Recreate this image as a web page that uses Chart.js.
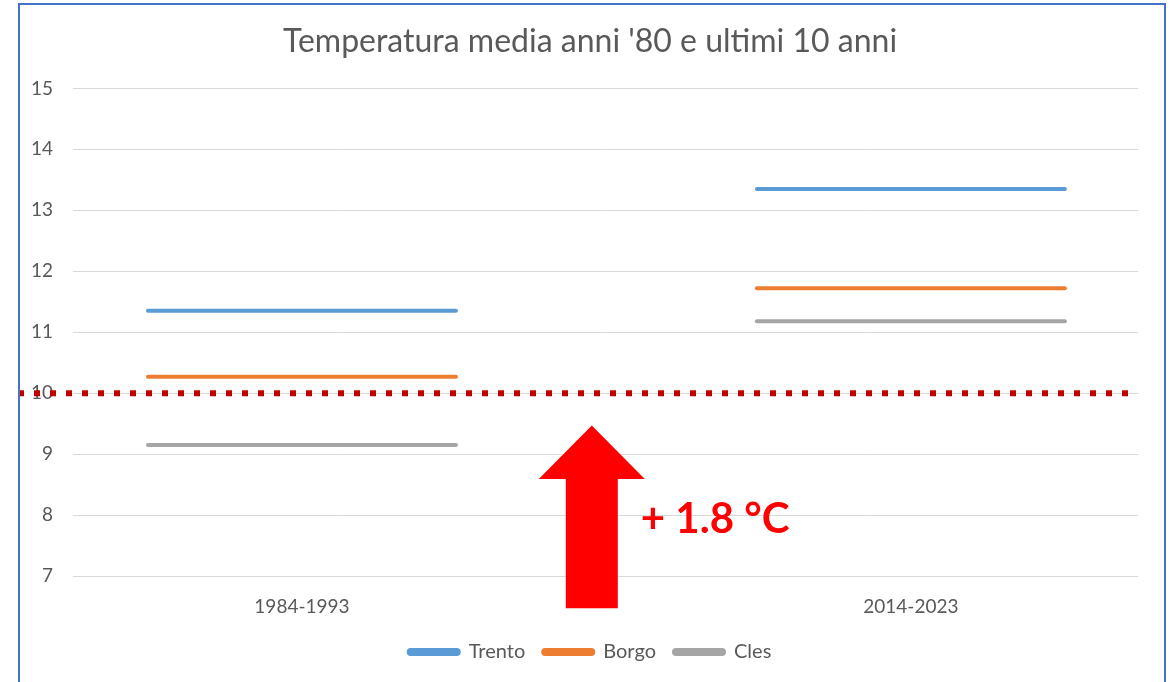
<!DOCTYPE html>
<html>
<head>
<meta charset="utf-8">
<script src="https://cdn.jsdelivr.net/npm/chart.js@4/dist/chart.umd.min.js"></script>
<style>
  html, body { margin: 0; padding: 0; background: #fff; overflow: hidden; }
  #wrap { position: relative; width: 1173px; height: 682px; }
  #frame {
    position: absolute; left: 18px; top: 3px; width: 1144px; height: 700px;
    border: 2px solid #4472C4; border-bottom: none; pointer-events: none;
  }
</style>
</head>
<body>
<div id="wrap">
  <canvas id="mycanvas" width="1173" height="682"></canvas>
  <div id="frame"></div>
</div>
<script>
// periods on the x axis
var periods = ['1984-1993', '2014-2023'];

// mean temperature per station (°C)
var trento = [11.35, 13.35];
var borgo = [10.27, 11.72];
var cles = [9.15, 11.18];

var yTicks = [7, 8, 9, 10, 11, 12, 13, 14, 15];

// annotation: reference line and arrow
var refValue = 10;
var deltaLabel = '+ 1.8 °C';

function toPoints(values) {
  return values.map(function(v, i) { return { x: i, y: v }; });
}

function series(label, values, color) {
  return {
    label: label,
    data: toPoints(values),
    borderColor: color,
    backgroundColor: color,
    borderWidth: 1,
    showLine: false,
    pointStyle: 'line',
    pointRadius: 154,
    pointHoverRadius: 154,
    pointBorderWidth: 4,
    pointHoverBorderWidth: 4
  };
}

var roundCaps = {
  id: 'roundCaps',
  beforeDatasetsDraw: function(chart) {
    chart.ctx.save();
    chart.ctx.lineCap = 'round';
  },
  afterDatasetsDraw: function(chart) {
    chart.ctx.restore();
  }
};

// centre title and legend on the frame rather than on the canvas
var centerBlocks = {
  id: 'centerBlocks',
  afterLayout: function(chart) {
    [chart.titleBlock, chart.legend].forEach(function(b) {
      if (!b) return;
      b.left = 42;
      b.width = b.right - b.left;
    });
  }
};

var annotations = {
  id: 'annotations',
  afterDraw: function(chart) {
    var ctx = chart.ctx;
    var xs = chart.scales.x, ys = chart.scales.y;

    // red arrow between the two periods
    var cx = xs.getPixelForValue(0.476);
    var tip = ys.getPixelForValue(9.47);
    var headBase = ys.getPixelForValue(8.59);
    var bottom = ys.getPixelForValue(6.47);
    ctx.save();
    ctx.fillStyle = '#FF0000';
    ctx.beginPath();
    ctx.moveTo(cx, tip);
    ctx.lineTo(cx + 53, headBase);
    ctx.lineTo(cx + 26, headBase);
    ctx.lineTo(cx + 26, bottom);
    ctx.lineTo(cx - 26, bottom);
    ctx.lineTo(cx - 26, headBase);
    ctx.lineTo(cx - 53, headBase);
    ctx.closePath();
    ctx.fill();

    ctx.font = 'bold 42px Lato';
    ctx.textBaseline = 'middle';
    ctx.fillText(deltaLabel, cx + 49, ys.getPixelForValue(7.93));

    // dotted reference line at 10 °C
    var y = ys.getPixelForValue(refValue);
    ctx.strokeStyle = '#C00000';
    ctx.lineWidth = 6;
    ctx.setLineDash([6, 10]);
    ctx.beginPath();
    ctx.moveTo(18, y);
    ctx.lineTo(chart.chartArea.right - 2, y);
    ctx.stroke();
    ctx.restore();
  }
};

var ctx = document.getElementById('mycanvas');
var chart = new Chart(ctx, {
  type: 'scatter',
  data: {
    datasets: [
      series('Trento', trento, '#5B9BD5'),
      series('Borgo', borgo, '#ED7D31'),
      series('Cles', cles, '#A5A5A5')
    ]
  },
  options: {
    responsive: false,
    animation: false,
    layout: { autoPadding: false, padding: { left: 0, right: 35, top: 0, bottom: 10 } },
    plugins: {
      title: {
        display: true,
        text: "Temperatura media anni '80 e ultimi 10 anni",
        color: '#595959',
        font: { family: 'Lato', size: 32, weight: 'normal' },
        padding: { top: 22, bottom: 28 }
      },
      legend: {
        position: 'bottom',
        labels: {
          color: '#595959',
          font: { family: 'Lato', size: 20 },
          boxWidth: 50,
          boxHeight: 4,
          useBorderRadius: true,
          borderRadius: 2,
          padding: 18
        }
      },
      tooltip: { enabled: false }
    },
    scales: {
      x: {
        type: 'linear',
        min: -0.376,
        max: 1.373,
        grid: { display: false },
        border: { display: false },
        afterBuildTicks: function(scale) {
          scale.ticks = periods.map(function(p, i) { return { value: i }; });
        },
        afterFit: function(scale) { scale.height = 48; },
        ticks: {
          padding: 11,
          color: '#595959',
          font: { family: 'Lato', size: 19 },
          callback: function(v) { return periods[v]; }
        }
      },
      y: {
        min: yTicks[0],
        max: yTicks[yTicks.length - 1],
        afterBuildTicks: function(scale) {
          scale.ticks = yTicks.map(function(t) { return { value: t }; });
        },
        afterFit: function(scale) { scale.width = 73; },
        grid: { color: '#D9D9D9', drawTicks: false },
        border: { display: false },
        ticks: {
          padding: 20,
          color: '#595959',
          font: { family: 'Lato', size: 19 }
        }
      }
    }
  },
  plugins: [roundCaps, centerBlocks, annotations]
});
</script>
</body>
</html>
